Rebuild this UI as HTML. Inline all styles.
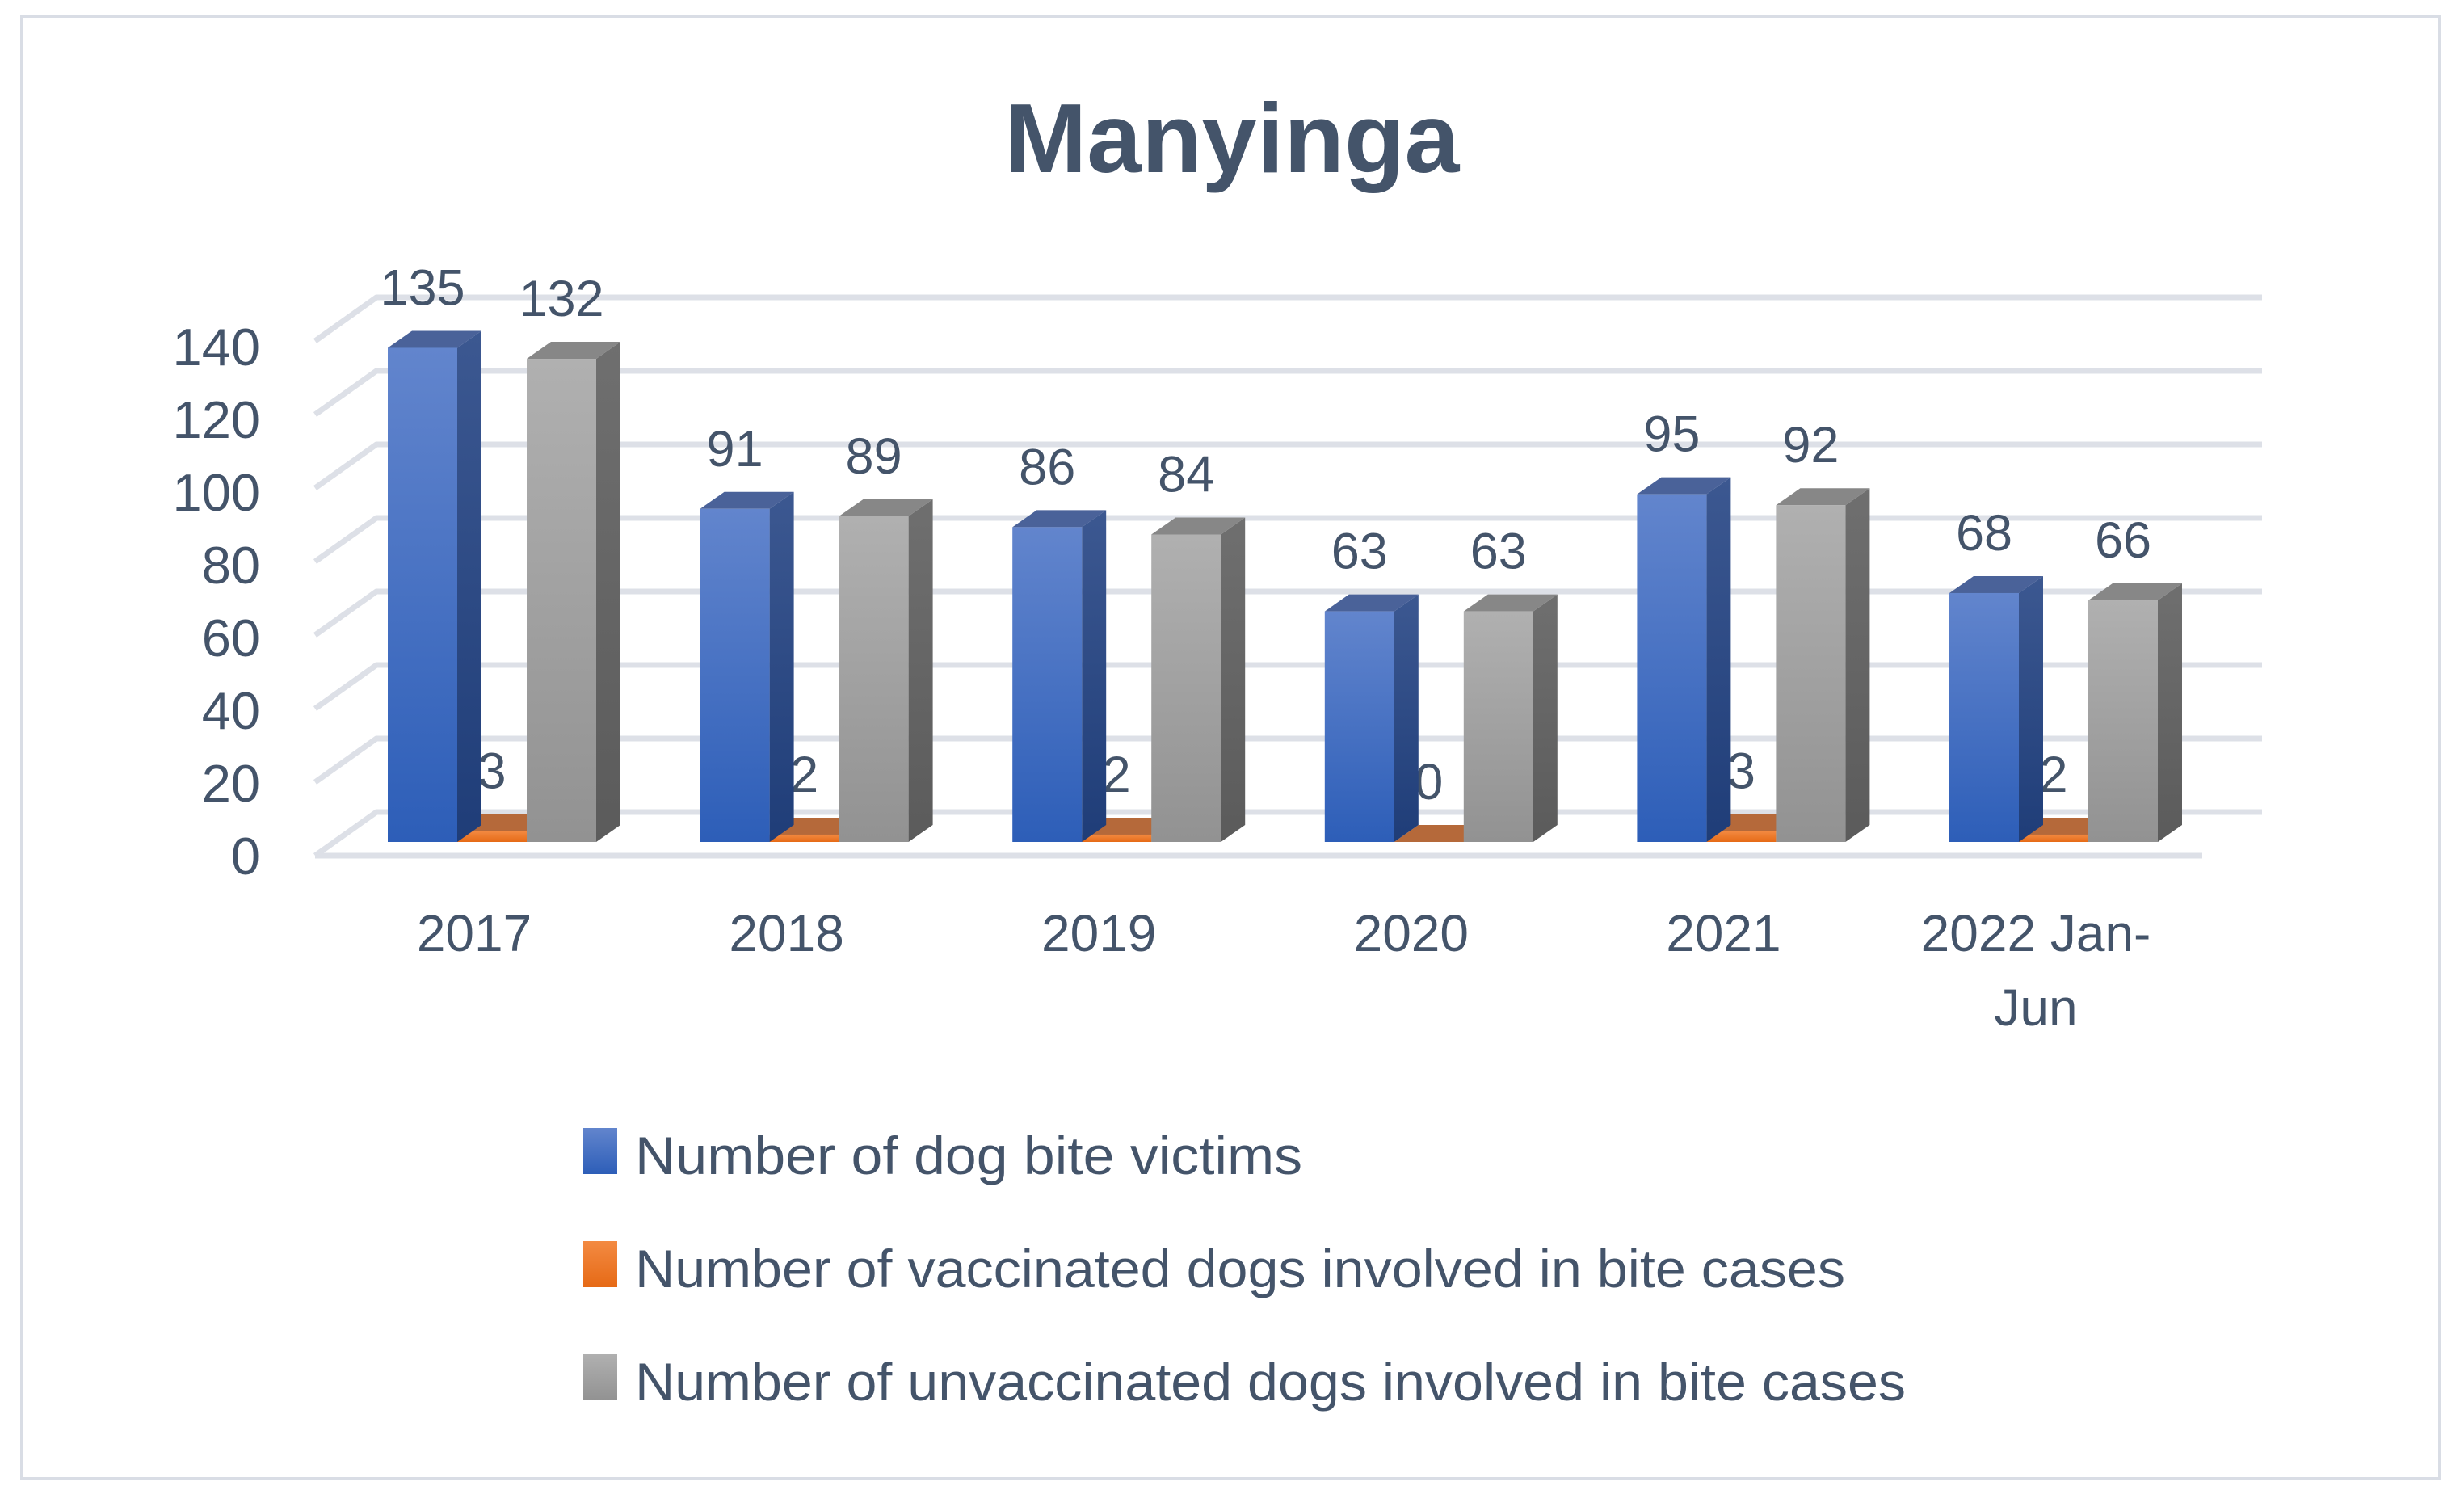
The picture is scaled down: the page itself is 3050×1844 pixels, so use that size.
<!DOCTYPE html>
<html><head><meta charset="utf-8"><style>
html,body{margin:0;padding:0;background:#fff}
svg{display:block}
text{font-family:"Liberation Sans",sans-serif;fill:#44546a}
</style></head><body>
<svg id="chart" width="3050" height="1844" viewBox="0 0 3050 1844" xmlns="http://www.w3.org/2000/svg">
<defs>
<linearGradient id="gBlueF" x1="0" y1="0" x2="0" y2="1"><stop offset="0" stop-color="#6285cd"/><stop offset="1" stop-color="#2d5eb8"/></linearGradient>
<linearGradient id="gBlueS" x1="0" y1="0" x2="0" y2="1"><stop offset="0" stop-color="#3c5891"/><stop offset="1" stop-color="#1f3d78"/></linearGradient>
<linearGradient id="gGrayF" x1="0" y1="0" x2="0" y2="1"><stop offset="0" stop-color="#b0b0b0"/><stop offset="1" stop-color="#929292"/></linearGradient>
<linearGradient id="gGrayS" x1="0" y1="0" x2="0" y2="1"><stop offset="0" stop-color="#6f6f6f"/><stop offset="1" stop-color="#5b5b5b"/></linearGradient>
<linearGradient id="gOrF" x1="0" y1="0" x2="0" y2="1"><stop offset="0" stop-color="#f38a42"/><stop offset="1" stop-color="#e66a16"/></linearGradient>
</defs>
<rect x="27" y="20" width="2993" height="1810" fill="#fff" stroke="#d9dde5" stroke-width="4"/>
<text x="1525" y="213" text-anchor="middle" font-size="122" font-weight="bold">Manyinga</text>
<g id="grid"></g>
<g id="ylabels"></g>
<g id="bars"></g>
<g id="xlabels"></g>
<g id="legend"></g>
</svg>
<script>
const categories = ["2017","2018","2019","2020","2021","2022 Jan-Jun"];
const victims = [135,91,86,63,95,68];
const vaccinated = [3,2,2,0,3,2];
const unvaccinated = [132,89,84,63,92,66];
const yTicks = [0,20,40,60,80,100,120,140];
const seriesNames = ["Number of dog bite victims","Number of vaccinated dogs involved in bite cases","Number of unvaccinated dogs involved in bite cases"];

const NS="http://www.w3.org/2000/svg";
function mk(tag,attrs,parent){const e=document.createElementNS(NS,tag);for(const k in attrs)e.setAttribute(k,attrs[k]);parent.appendChild(e);return e;}
const BASE=1042, PX=4.53, DX=30, DY=21, BW=86, X0=480, STEP=386.6;
const BACK0=1005, BPX=4.55;
function yF(v){return BASE-v*PX;}
function yB(v){return BACK0-v*BPX;}
function xCat(i){return X0+i*STEP;}

const grid=document.getElementById('grid');
yTicks.forEach(t=>{
  const y=yB(t);
  const l=mk('polyline',{points:`390,${y+54} 466,${y} 2800,${y}`,fill:'none',stroke:'#dde0e7','stroke-width':7,'stroke-linejoin':'round'},grid);
  
  
});
const fl=mk('line',{x1:390,y1:1059,x2:2726,y2:1059,stroke:'#dde0e7','stroke-width':7},grid);



const yl=document.getElementById('ylabels');
yTicks.forEach((t,k)=>{
  const tx=mk('text',{x:322,y:1082-k*90,'text-anchor':'end','font-size':65},yl);
  tx.textContent=t;
  
  
});

const bars=document.getElementById('bars');
function bar(x,v,front,side,top,name,labelVal){
  const g=mk('g',{},bars);
  
  
  const yt=yF(v);
  mk('polygon',{points:`${x+BW},${yt} ${x+BW+DX},${yt-DY} ${x+BW+DX},${BASE-DY} ${x+BW},${BASE}`,fill:side},g);
  mk('polygon',{points:`${x},${yt} ${x+DX},${yt-DY} ${x+BW+DX},${yt-DY} ${x+BW},${yt}`,fill:top},g);
  if(v>0) mk('rect',{x:x,y:yt,width:BW,height:BASE-yt,fill:front},g);
  const t=mk('text',{x:x+BW/2,y:yt-53,'text-anchor':'middle','font-size':63},g);
  t.textContent=labelVal;
  
  
}
categories.forEach((c,i)=>{
  const x=xCat(i);
  bar(x+BW,vaccinated[i],'url(#gOrF)','#c0622a','#b5693a','bar-vaccinated-'+i,vaccinated[i]);
  bar(x,victims[i],'url(#gBlueF)','url(#gBlueS)','#4a6299','bar-victims-'+i,victims[i]);
  bar(x+2*BW,unvaccinated[i],'url(#gGrayF)','url(#gGrayS)','#878787','bar-unvaccinated-'+i,unvaccinated[i]);
});

const xl=document.getElementById('xlabels');
categories.forEach((c,i)=>{
  const cx=xCat(i)+107;
  const t=mk('text',{x:cx,y:1177,'text-anchor':'middle','font-size':64},xl);
  
  
  if(c.indexOf('Jan-')>=0){
    t.textContent='2022 Jan-';
    const t2=mk('text',{x:cx,y:1269,'text-anchor':'middle','font-size':64},xl);
    t2.textContent='Jun';
    
    
  } else t.textContent=c;
});

const lg=document.getElementById('legend');
const swatch=['url(#gBlueF)','url(#gOrF)','url(#gGrayF)'];
const widths=[826,1498,1573];
seriesNames.forEach((n,k)=>{
  const y=1396+k*140;
  const g=mk('g',{},lg);
  
  
  mk('rect',{x:722,y:y,width:42,height:57,fill:swatch[k]},g);
  const t=mk('text',{x:786,y:y+57,'font-size':66,textLength:widths[k],lengthAdjust:'spacingAndGlyphs'},g);
  t.textContent=n;
});
</script>
</body></html>
